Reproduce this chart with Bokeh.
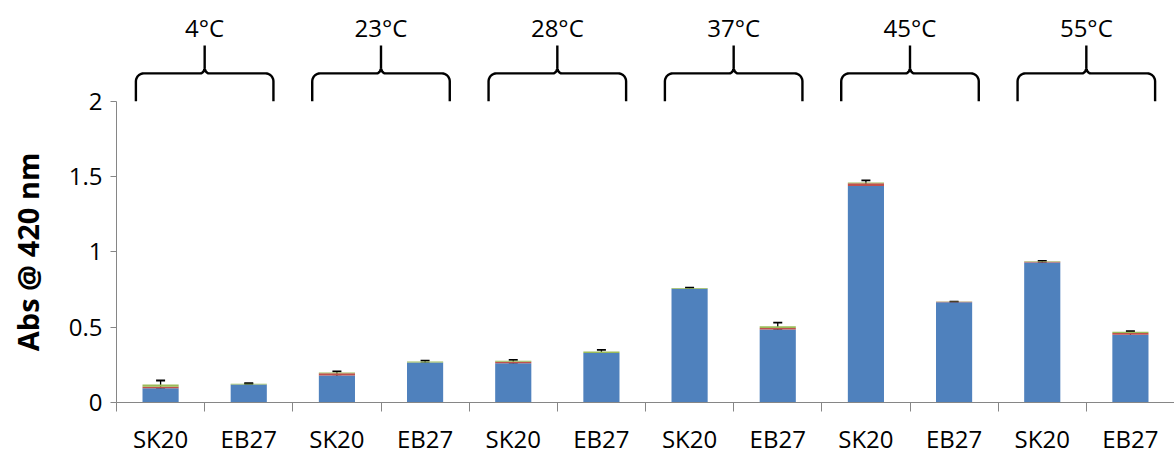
import numpy as np
from bokeh.plotting import figure
from bokeh.layouts import row
from bokeh.models import Range1d, FixedTicker, ColumnDataSource, Whisker, TeeHead
from bokeh.core.properties import value
from bokeh.embed import file_html
from bokeh.resources import INLINE

# ---- data ----
strains = ["SK20", "EB27", "SK20", "EB27", "SK20", "EB27",
           "SK20", "EB27", "SK20", "EB27", "SK20", "EB27"]
temps = ["4°C", "23°C", "28°C", "37°C", "45°C", "55°C"]
blue = [0.095, 0.120, 0.180, 0.265, 0.260, 0.328, 0.755, 0.485, 1.437, 0.665, 0.930, 0.450]
red = [0.010, 0.000, 0.015, 0.000, 0.010, 0.000, 0.000, 0.010, 0.018, 0.004, 0.005, 0.012]
green = [0.015, 0.005, 0.005, 0.008, 0.008, 0.010, 0.005, 0.012, 0.006, 0.002, 0.003, 0.008]
err_lo = [0.088, 0.122, 0.172, 0.262, 0.255, 0.320, 0.750, 0.480, 1.426, 0.664, 0.925, 0.437]
err_hi = [0.146, 0.128, 0.207, 0.278, 0.283, 0.350, 0.762, 0.530, 1.475, 0.670, 0.940, 0.474]
y_ticks = [0, 0.5, 1, 1.5, 2]
y_tick_labels = ["0", "0.5", "1", "1.5", "2"]
y_title = "Abs @ 420 nm"

FONT = "Open Sans"
AXIS_COLOR = "#868686"
H = 457
BOTTOM = 54
LABEL_W = 60

n = len(strains)
xs = [i + 0.5 for i in range(n)]
src = ColumnDataSource(dict(x=xs, blue=blue, red=red, green=green, lo=err_lo, hi=err_hi))
yr = Range1d(0, 2.669)

p = figure(width=1174 - LABEL_W, height=H, x_range=Range1d(0, n), y_range=yr,
           output_backend="svg", toolbar_location=None,
           min_border_left=116 - LABEL_W, min_border_right=0, min_border_top=0,
           min_border_bottom=BOTTOM)
p.outline_line_color = None
p.xgrid.visible = False
p.ygrid.visible = False

p.vbar_stack(["blue", "red", "green"], x="x", width=0.41, source=src,
             color=["#4F81BD", "#C0504D", "#9BBB59"], line_color=None)

w = Whisker(base="x", lower="lo", upper="hi", source=src, line_color="black", line_width=1.3,
            upper_head=TeeHead(size=9, line_color="black", line_width=1.8),
            lower_head=TeeHead(size=9, line_color="black", line_width=1.8))
p.add_layout(w)

# ---- brackets above each temperature pair ----
def bracket(left, right, y0=2.0, yf=2.185, ypk=2.37, rx=0.09, ry=0.053, rx2=0.05, ry2=0.04):
    c = (left + right) / 2
    t = np.linspace(0, np.pi / 2, 10)
    bx, by = [left], [y0]
    bx += list(left + rx - rx * np.cos(t)); by += list(yf - ry + ry * np.sin(t))
    bx += list(c - rx2 + rx2 * np.sin(t)); by += list(yf + ry2 - ry2 * np.cos(t))
    bx += [c]; by += [ypk]
    rbx = [2 * c - v for v in bx[::-1]]; rby = by[::-1]
    return bx + rbx[1:], by + rby[1:]

bxs, bys, tx = [], [], []
for g in range(len(temps)):
    lft, rgt = 2 * g + 0.22, 2 * g + 1.78
    bx, by = bracket(lft, rgt)
    bxs.append(bx); bys.append(by); tx.append(2 * g + 1)
p.multi_line(bxs, bys, line_color="black", line_width=2.4)
p.text(x=tx, y=[2.49] * len(temps), text=temps, text_font=value(FONT), text_font_size="24px",
       text_align="center", text_baseline="middle", text_color="black")

# ---- axes ----
xa = p.xaxis[0]
xa.ticker = FixedTicker(ticks=xs, minor_ticks=list(range(n + 1)))
xa.major_label_overrides = {x: s for x, s in zip(xs, strains)}
xa.major_tick_line_color = None
xa.major_tick_out = 0
xa.major_tick_in = 0
xa.minor_tick_out = 9
xa.minor_tick_in = 0
xa.minor_tick_line_color = AXIS_COLOR
xa.axis_line_color = AXIS_COLOR
xa.major_label_standoff = 10
xa.major_label_text_font = FONT
xa.major_label_text_font_size = "24px"
xa.major_label_text_color = "black"

ya = p.yaxis[0]
ya.bounds = (0, 2)
ya.ticker = FixedTicker(ticks=y_ticks, minor_ticks=[])
ya.major_label_overrides = {t: s for t, s in zip(y_ticks, y_tick_labels)}
ya.major_tick_out = 6
ya.major_tick_in = 0
ya.major_tick_line_color = AXIS_COLOR
ya.axis_line_color = AXIS_COLOR
ya.minor_tick_line_color = None
ya.major_label_standoff = 8
ya.major_label_text_font = FONT
ya.major_label_text_font_size = "24px"
ya.major_label_text_color = "black"

# ---- y-axis title in a narrow side figure sharing the y range ----
lf = figure(width=LABEL_W, height=H, x_range=Range1d(0, LABEL_W), y_range=yr,
            output_backend="svg", toolbar_location=None,
            x_axis_location=None, y_axis_location=None,
            min_border_left=0, min_border_right=0, min_border_top=0, min_border_bottom=BOTTOM)
lf.outline_line_color = None
lf.xgrid.visible = False
lf.ygrid.visible = False
lf.text(x=[27], y=[(y_ticks[0] + y_ticks[-1]) / 2], text=[y_title], angle=np.pi / 2,
        text_font=value(FONT), text_font_style="bold", text_font_size="29px",
        text_align="center", text_baseline="middle", text_color="black")

layout = row(lf, p, spacing=0)
open("out.html", "w").write(file_html(layout, INLINE))
